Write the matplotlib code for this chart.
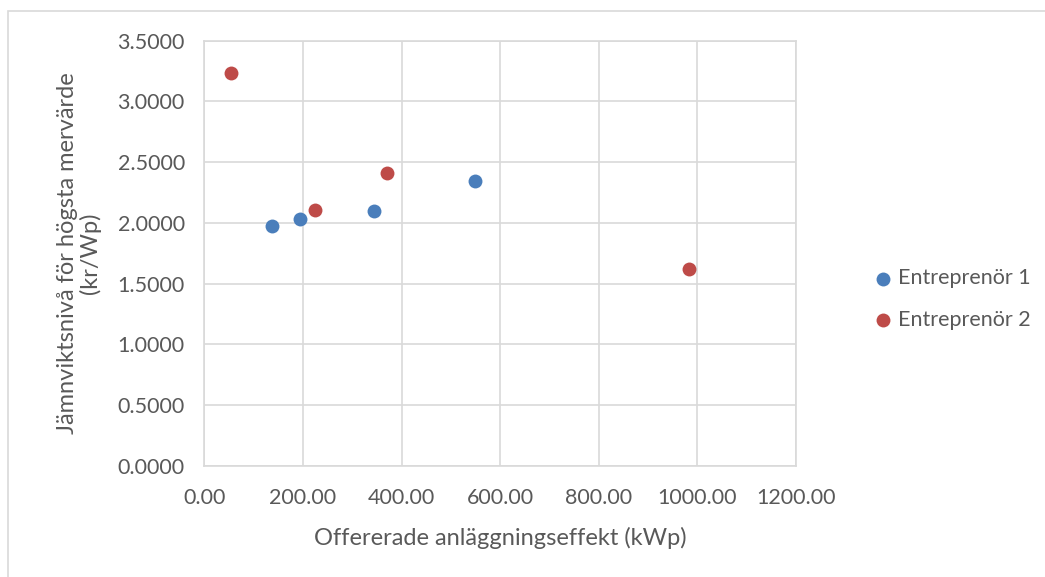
import matplotlib.pyplot as plt
from matplotlib.patches import Rectangle

# Entreprenör 1 and 2: offered power (kWp) vs equilibrium level (kr/Wp)
e1_kwp = [136.7, 193.5, 344.8, 549.0]
e1_level = [1.973, 2.028, 2.096, 2.343]
e2_kwp = [54.2, 224.5, 371.2, 983.8]
e2_level = [3.23, 2.105, 2.412, 1.618]

x_ticks = [0, 200, 400, 600, 800, 1000, 1200]
y_ticks = [0, 0.5, 1.0, 1.5, 2.0, 2.5, 3.0, 3.5]

txt = '#595959'
grid = '#d9d9d9'
plt.rcParams['font.family'] = ['Lato', 'DejaVu Sans']

fig = plt.figure(figsize=(10.45, 5.77), dpi=100)
fig.patches.append(Rectangle((8 / 1045, -0.1), 1.2, 1 - 11 / 577 + 0.1,
                             transform=fig.transFigure, fill=False,
                             edgecolor=grid, linewidth=1.2))
ax = fig.add_axes([204.3 / 1045, 1 - 465.6 / 577, (796 - 204.3) / 1045, (465.6 - 40.7) / 577])

ax.scatter(e1_kwp, e1_level, s=100, color='#4a7ebb', label='Entreprenör 1', zorder=3, linewidths=0)
ax.scatter(e2_kwp, e2_level, s=100, color='#be4b48', label='Entreprenör 2', zorder=3, linewidths=0)

ax.set_xlim(0, 1200)
ax.set_ylim(0, 3.5)
ax.set_xticks(x_ticks)
ax.set_yticks(y_ticks)
ax.set_xticklabels([f'{v:.2f}' for v in x_ticks])
ax.set_yticklabels([f'{v:.4f}' for v in y_ticks])
ax.grid(True, color=grid, linewidth=1.2)
ax.set_axisbelow(True)
for s in ax.spines.values():
    s.set_color(grid)
    s.set_linewidth(1.2)
ax.tick_params(axis='both', length=0, labelsize=15.5, labelcolor=txt)
ax.tick_params(axis='x', pad=16)
ax.tick_params(axis='y', pad=14)

ax.set_xlabel('Offererade anläggningseffekt (kWp)', fontsize=17, color=txt, labelpad=14)
ax.set_ylabel('Jämnviktsnivå för högsta mervärde\n(kr/Wp)', fontsize=17, color=txt,
              labelpad=12, linespacing=1.05)

leg = fig.legend(loc='center left', bbox_to_anchor=(872 / 1045, 1 - 299 / 577),
                 frameon=False, fontsize=15.5, handlelength=1.0, handletextpad=0.2,
                 labelspacing=1.0, scatterpoints=1, borderaxespad=0, borderpad=0)
for t in leg.get_texts():
    t.set_color(txt)

fig.savefig('out.png', dpi=100)
